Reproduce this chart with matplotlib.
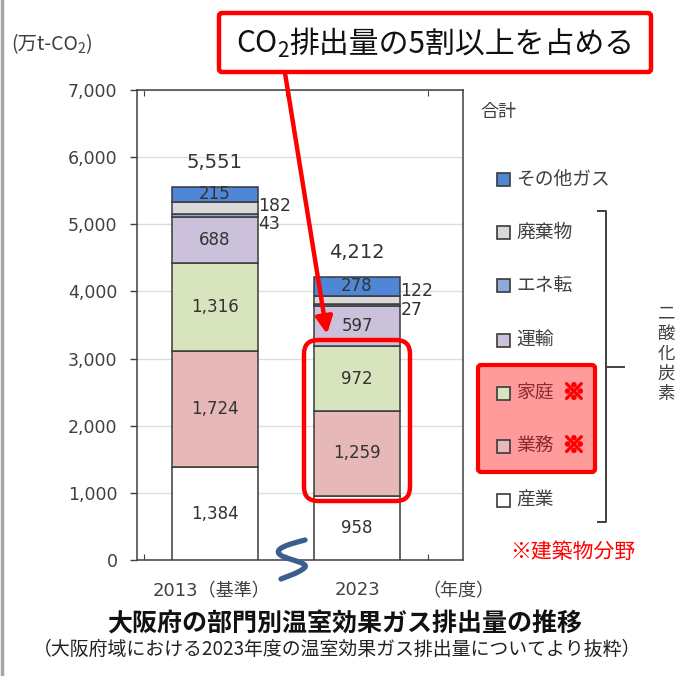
import matplotlib
matplotlib.use("Agg")
import matplotlib.pyplot as plt
import matplotlib.patheffects as pe
from matplotlib.patches import Rectangle, FancyBboxPatch, PathPatch
from matplotlib.path import Path
from matplotlib.lines import Line2D
import numpy as np

plt.rcParams['font.family'] = ['DejaVu Sans', 'Noto Sans CJK JP']
CJK = ['Noto Sans CJK JP', 'DejaVu Sans']

# ---------------- data ----------------
years = ["2013（基準）", "2023"]
sectors = ["産業", "業務", "家庭", "運輸", "エネ転", "廃棄物", "その他ガス"]
sangyo = [1384, 958]
gyomu = [1724, 1259]
katei = [1316, 972]
unyu = [688, 597]
eneten = [43, 27]
haiki = [182, 122]
sonota = [215, 278]
totals = [5551, 4212]
yticks = [0, 1000, 2000, 3000, 4000, 5000, 6000, 7000]

series = [sangyo, gyomu, katei, unyu, eneten, haiki, sonota]
colors = ["#FFFFFF", "#E6B9B8", "#D7E4BD", "#CCC1DA", "#8EA9DB", "#D9D9D9", "#4F86D6"]
inside = [True, True, True, True, False, False, True]

W, H = 686, 676
fig = plt.figure(figsize=(W / 100, H / 100), dpi=100)
fig.patch.set_facecolor("white")

ax = fig.add_axes([137 / W, 1 - 560 / H, 326 / W, 470 / H])
x = np.arange(len(years))
bottom = np.zeros(len(years))
txtc = "#333333"
for k, vals in enumerate(series):
    vals = np.array(vals, dtype=float)
    ax.bar(x, vals, 0.61, bottom=bottom, color=colors[k], edgecolor="#3A3A3A",
           linewidth=1.1, zorder=3)
    for i in range(len(years)):
        if inside[k]:
            ax.text(x[i], bottom[i] + vals[i] / 2, f"{int(vals[i]):,}", ha="center",
                    va="center", fontsize=12, color=txtc, zorder=5)
    bottom += vals

# small side labels (エネ転 / 廃棄物)
cum = np.cumsum(np.array(series, dtype=float), axis=0)
side_offsets = {4: [-9, -5], 5: [2, 9]}  # pixel offsets of the side labels
for k in (4, 5):
    for i in range(len(years)):
        yc = cum[k][i] - series[k][i] / 2
        ax.annotate(f"{series[k][i]:,}", (x[i] + 0.305, yc), xytext=(0, side_offsets[k][i] * 0.72),
                    textcoords="offset points", ha="left", va="center", fontsize=12.5,
                    color=txtc, zorder=5)

for i in range(len(years)):
    ax.annotate(f"{totals[i]:,}", (x[i], cum[-1][i]), xytext=(0, 18), textcoords="offset points",
                ha="center", va="center", fontsize=14, color=txtc)

ax.set_ylim(0, 7000)
ax.set_xlim(-0.549, 1.746)
ax.set_yticks(yticks)
ax.set_yticklabels([f"{v:,}" for v in yticks], fontsize=12.5, color="#404040")
ax.tick_params(axis="y", length=5, width=1, color="#404040", pad=9)
ax.set_xticks([-0.5, 0.5, 1.5])
ax.set_xticklabels([])
ax.tick_params(axis="x", direction="in", length=4, width=0.8, color="#404040", top=True)
ax.yaxis.grid(True, color="#DDDDDD", linewidth=1.0, zorder=0)
ax.set_axisbelow(True)
for s in ax.spines.values():
    s.set_color("#404040")
    s.set_linewidth(1.1)

# ---------------- overlay (pixel coordinates) ----------------
ov = fig.add_axes([0, 0, 1, 1], zorder=10)
ov.set_xlim(0, W)
ov.set_ylim(H, 0)
ov.axis("off")
ov.patch.set_alpha(0)
renderer = fig.canvas.get_renderer()


def draw_runs(x0, y0, runs, ha="center", color="#111111", **kw):
    """runs: list of (text, fontsize, dy_px) drawn side by side."""
    arts, widths = [], []
    for t, fs, dy in runs:
        a = ov.text(0, y0 + dy, t, fontsize=fs, color=color, ha="left", va="center", **kw)
        arts.append(a)
        widths.append(a.get_window_extent(renderer).width)
    total = sum(widths)
    start = x0 - total / 2 if ha == "center" else x0
    for a, w in zip(arts, widths):
        a.set_x(start)
        start += w


# left border line
ov.add_line(Line2D([2, 2], [0, H], color="#A6A6A6", lw=2.5))

# y unit label
draw_runs(11, 45, [("(万t-CO", 14, 0), ("2", 10, 4), (")", 14, 0)], ha="left",
          color="#404040", family=CJK)

# x labels
ov.text(211, 591, years[0], fontsize=13, color="#404040", ha="center", va="center")
ov.text(357, 590, years[1], fontsize=13, color="#404040", ha="center", va="center")
ov.text(458, 591, "（年度）", fontsize=13, color="#404040", ha="center", va="center")

# titles
ov.text(345, 624, "大阪府の部門別温室効果ガス排出量の推移", fontsize=18, fontweight="bold",
        color="#111111", ha="center", va="center", family=CJK)
ov.text(337, 649, "（大阪府域における2023年度の温室効果ガス排出量についてより抜粋）", fontsize=13.6,
        color="#222222", ha="center", va="center", family=CJK)

# callout box
ov.add_patch(FancyBboxPatch((219, 13), 432, 59, boxstyle="round,pad=0,rounding_size=3",
                            fc="white", ec="#FF0000", lw=3.2))
draw_runs(435, 44, [("CO", 21.5, 0), ("2", 15, 7), ("排出量の5割以上を占める", 21.5, 0)],
          color="#111111", family=CJK)
# arrow
ov.annotate("", xy=(327, 334), xytext=(285, 73),
            arrowprops=dict(arrowstyle="-|>,head_length=1.0,head_width=0.5", color="#FF0000",
                            lw=3.2, shrinkA=0, shrinkB=0))

# highlight box around 2023 building sectors
ov.add_patch(FancyBboxPatch((304, 340), 106, 161, boxstyle="round,pad=0,rounding_size=14",
                            fc="none", ec="#FF0000", lw=3.2))

# squiggle break mark
verts = [(305, 540), (290, 544), (270, 549), (282, 556),
         (292, 561), (312, 563), (303, 569),
         (296, 574), (288, 576), (281, 579)]
codes = [Path.MOVETO] + [Path.CURVE4] * 9
ov.add_patch(PathPatch(Path(verts, codes), fc="none", ec="#3B5F8C", lw=3.8, capstyle="round"))

# legend
ov.text(480, 112, "合計", fontsize=13, color="#404040", ha="left", va="center", family=CJK)
ov.add_patch(FancyBboxPatch((478, 365), 117, 107, boxstyle="round,pad=0,rounding_size=3",
                            fc="#FF9B9B", ec="#FF0000", lw=3.0, zorder=1))
leg_y = [500, 446, 393, 340, 285, 232, 179]
for k, name in enumerate(sectors):
    yy = leg_y[k]
    hl = k in (1, 2)
    ov.add_patch(Rectangle((497, yy - 6.5), 13, 13, fc=colors[k], ec="#3A3A3A", lw=1.2, zorder=3))
    ov.text(516, yy, name, fontsize=13.5, color="#8B2B2B" if hl else "#404040",
            ha="left", va="center", zorder=3, family=CJK)
    if hl:
        ov.text(574, yy, "※", fontsize=16, fontweight="bold", color="#FF0000",
                ha="center", va="center", zorder=3, family=CJK,
                path_effects=[pe.withStroke(linewidth=1.6, foreground="#FF0000")])

ov.text(573, 552, "※建築物分野", fontsize=15, color="#FF0000", ha="center", va="center", family=CJK)

# bracket
bc = "#404040"
ov.add_line(Line2D([598, 606, 606, 598], [211, 211, 522, 522], color=bc, lw=1.4))
ov.add_line(Line2D([606, 624], [367, 367], color=bc, lw=1.4))
for j, ch in enumerate("二酸化炭素"):
    ov.text(666, 314 + j * 20, ch, fontsize=12.5, color="#404040", ha="center", va="center",
            family=CJK)

fig.savefig("out.png", dpi=100, facecolor="white")
